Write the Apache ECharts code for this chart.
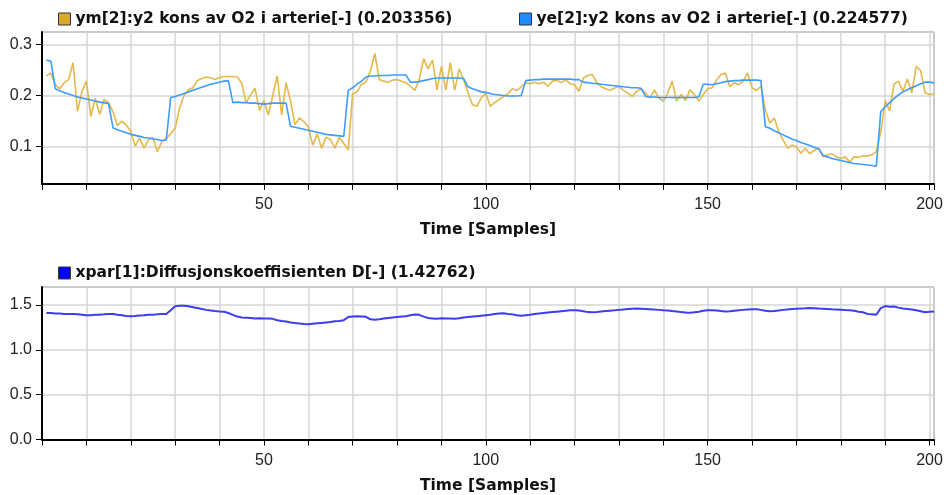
<!DOCTYPE html>
<html>
<head>
<meta charset="utf-8">
<script src="https://cdn.jsdelivr.net/npm/echarts@6/dist/echarts.min.js"></script>
<style>
  html, body { margin: 0; padding: 0; background: #fff; }
  #chart { width: 947px; height: 495px; }
</style>
</head>
<body>
<div id="chart"></div>
<script>
// Sample index (x axis), 1..201
const sampleCount = 201;
const samples = Array.from({ length: sampleCount }, (_, i) => i + 1);

// Measured O2 concentration in artery, ym[2]
const ymValues = [
  0.238, 0.244, 0.221, 0.213, 0.225, 0.231, 0.264, 0.169, 0.208, 0.228,
  0.159, 0.194, 0.163, 0.192, 0.186, 0.168, 0.141, 0.150, 0.142, 0.130,
  0.101, 0.117, 0.097, 0.114, 0.118, 0.090, 0.110, 0.116, 0.125, 0.136,
  0.175, 0.200, 0.211, 0.215, 0.229, 0.233, 0.236, 0.234, 0.231, 0.235,
  0.237, 0.237, 0.237, 0.236, 0.224, 0.186, 0.201, 0.214, 0.171, 0.190,
  0.162, 0.200, 0.238, 0.162, 0.225, 0.189, 0.143, 0.156, 0.149, 0.139,
  0.103, 0.125, 0.097, 0.118, 0.114, 0.097, 0.118, 0.106, 0.094, 0.203,
  0.207, 0.222, 0.226, 0.248, 0.282, 0.231, 0.228, 0.226, 0.230, 0.231,
  0.228, 0.225, 0.218, 0.210, 0.231, 0.272, 0.252, 0.269, 0.211, 0.257,
  0.211, 0.264, 0.210, 0.252, 0.231, 0.205, 0.182, 0.179, 0.195, 0.205,
  0.179, 0.186, 0.192, 0.198, 0.203, 0.213, 0.210, 0.217, 0.225, 0.223,
  0.226, 0.223, 0.226, 0.218, 0.228, 0.230, 0.225, 0.231, 0.223, 0.221,
  0.208, 0.234, 0.239, 0.241, 0.225, 0.217, 0.213, 0.210, 0.214, 0.218,
  0.210, 0.205, 0.198, 0.208, 0.213, 0.205, 0.195, 0.211, 0.195, 0.189,
  0.205, 0.228, 0.189, 0.202, 0.190, 0.211, 0.202, 0.189, 0.202, 0.213,
  0.215, 0.230, 0.241, 0.244, 0.217, 0.225, 0.221, 0.228, 0.244, 0.215,
  0.210, 0.218, 0.172, 0.146, 0.156, 0.130, 0.113, 0.097, 0.103, 0.100,
  0.087, 0.097, 0.086, 0.093, 0.097, 0.080, 0.084, 0.086, 0.080, 0.077,
  0.080, 0.070, 0.080, 0.079, 0.082, 0.082, 0.084, 0.090, 0.128, 0.190,
  0.170, 0.222, 0.228, 0.208, 0.232, 0.205, 0.257, 0.248, 0.205, 0.202,
  0.203356
];

// Estimated O2 concentration in artery, ye[2]
const yeValues = [
  0.269, 0.267, 0.213, 0.209, 0.206, 0.203, 0.200, 0.197, 0.195, 0.193,
  0.191, 0.189, 0.187, 0.186, 0.184, 0.137, 0.133, 0.130, 0.127, 0.124,
  0.122, 0.120, 0.118, 0.117, 0.115, 0.114, 0.112, 0.113, 0.196, 0.198,
  0.201, 0.204, 0.207, 0.210, 0.213, 0.216, 0.219, 0.222, 0.224, 0.226,
  0.228, 0.229, 0.186, 0.187, 0.186, 0.186, 0.185, 0.185, 0.184, 0.183,
  0.184, 0.185, 0.185, 0.185, 0.185, 0.140, 0.138, 0.136, 0.134, 0.132,
  0.130, 0.128, 0.126, 0.124, 0.123, 0.122, 0.121, 0.120, 0.210, 0.215,
  0.222, 0.228, 0.236, 0.238, 0.238, 0.239, 0.239, 0.239, 0.240, 0.240,
  0.240, 0.240, 0.226, 0.226, 0.227, 0.229, 0.231, 0.233, 0.234, 0.234,
  0.234, 0.234, 0.234, 0.234, 0.233, 0.217, 0.213, 0.210, 0.207, 0.206,
  0.204, 0.202, 0.201, 0.200, 0.199, 0.199, 0.199, 0.200, 0.229, 0.230,
  0.231, 0.231, 0.232, 0.232, 0.232, 0.232, 0.232, 0.232, 0.232, 0.231,
  0.231, 0.226, 0.225, 0.224, 0.223, 0.222, 0.221, 0.220, 0.219, 0.218,
  0.217, 0.216, 0.215, 0.215, 0.214, 0.198, 0.197, 0.197, 0.196, 0.196,
  0.196, 0.196, 0.196, 0.196, 0.196, 0.196, 0.196, 0.197, 0.222, 0.222,
  0.221, 0.223, 0.225, 0.227, 0.228, 0.229, 0.229, 0.230, 0.230, 0.230,
  0.230, 0.229, 0.139, 0.136, 0.131, 0.127, 0.123, 0.119, 0.115, 0.112,
  0.108, 0.105, 0.102, 0.099, 0.096, 0.083, 0.080, 0.077, 0.075, 0.073,
  0.071, 0.069, 0.067, 0.066, 0.065, 0.064, 0.063, 0.062, 0.168, 0.178,
  0.186, 0.194, 0.201, 0.207, 0.211, 0.215, 0.219, 0.223, 0.226, 0.226,
  0.224577
];

// Estimated diffusion coefficient, xpar[1]
const xparValues = [
  1.410, 1.410, 1.405, 1.405, 1.400, 1.400, 1.398, 1.395, 1.390, 1.385,
  1.385, 1.390, 1.392, 1.395, 1.400, 1.398, 1.390, 1.385, 1.378, 1.375,
  1.378, 1.382, 1.385, 1.390, 1.392, 1.395, 1.400, 1.400, 1.440, 1.485,
  1.490, 1.490, 1.485, 1.475, 1.465, 1.455, 1.445, 1.438, 1.432, 1.428,
  1.425, 1.410, 1.390, 1.370, 1.360, 1.358, 1.355, 1.350, 1.352, 1.350,
  1.348, 1.345, 1.330, 1.320, 1.315, 1.305, 1.298, 1.292, 1.288, 1.285,
  1.290, 1.295, 1.300, 1.305, 1.310, 1.318, 1.320, 1.330, 1.365, 1.372,
  1.373, 1.372, 1.368, 1.340, 1.335, 1.340, 1.348, 1.355, 1.360, 1.365,
  1.370, 1.375, 1.385, 1.393, 1.390, 1.370, 1.355, 1.350, 1.345, 1.352,
  1.348, 1.350, 1.345, 1.352, 1.360, 1.365, 1.370, 1.375, 1.380, 1.385,
  1.390, 1.400, 1.405, 1.407, 1.400, 1.395, 1.385, 1.380, 1.385, 1.390,
  1.398, 1.405, 1.410, 1.415, 1.420, 1.425, 1.430, 1.435, 1.440, 1.442,
  1.438, 1.430, 1.420, 1.418, 1.422, 1.428, 1.432, 1.436, 1.440, 1.445,
  1.450, 1.455, 1.458, 1.461, 1.458, 1.455, 1.452, 1.448, 1.445, 1.440,
  1.437, 1.432, 1.428, 1.420, 1.415, 1.412, 1.418, 1.425, 1.435, 1.440,
  1.442, 1.438, 1.432, 1.428, 1.430, 1.436, 1.440, 1.445, 1.450, 1.452,
  1.453, 1.445, 1.435, 1.430, 1.432, 1.438, 1.445, 1.450, 1.455, 1.458,
  1.460, 1.462, 1.465, 1.463, 1.460, 1.458, 1.455, 1.452, 1.450, 1.447,
  1.443, 1.440, 1.435, 1.425, 1.418, 1.400, 1.395, 1.390, 1.465, 1.487,
  1.480, 1.482, 1.470, 1.460, 1.455, 1.450, 1.440, 1.430, 1.418, 1.425,
  1.42762
];

// Legend / series names
const ymName = 'ym[2]:y2 kons av O2 i arterie[-] (0.203356)';
const yeName = 'ye[2]:y2 kons av O2 i arterie[-] (0.224577)';
const xparName = 'xpar[1]:Diffusjonskoeffisienten D[-] (1.42762)';

// Axis settings
const xRange = [0, 201];
const xStep = 10;
const xLabelStep = 50;
const yTopRange = [0.027, 0.324];
const yBottomRange = [0, 1.7];
const yBottomStep = 0.5;
const axisTitle = 'Time [Samples]';

const toPoints = vals => samples.map((s, i) => [s, vals[i]]);

const tickFont = 'Liberation Sans, Arial, sans-serif';
const boldFont = 'DejaVu Sans, Verdana, sans-serif';

function xAxisFor(gridIndex) {
  return {
    type: 'value',
    gridIndex,
    min: xRange[0],
    max: xRange[1],
    interval: xStep,
    name: axisTitle,
    nameLocation: 'middle',
    nameGap: 38,
    nameMoveOverlap: false,
    nameTextStyle: { fontFamily: boldFont, fontWeight: 'bold', fontSize: 15.5, color: '#111' },
    axisLine: { show: true, onZero: false, lineStyle: { color: '#000', width: 2 } },
    axisTick: { show: true, inside: false, length: 6, lineStyle: { color: '#000', width: 1 } },
    axisLabel: {
      color: '#222', fontFamily: tickFont, fontSize: 16, margin: 13,
      formatter: v => (v > 0 && v % xLabelStep === 0) ? String(v) : ''
    },
    splitLine: { show: true, lineStyle: { color: '#d6d6d6', width: 1.5 } }
  };
}

const commonYAxis = {
  type: 'value',
  axisLine: { show: true, onZero: false, lineStyle: { color: '#000', width: 2 } },
  axisTick: { show: true, inside: false, length: 6, lineStyle: { color: '#000', width: 1 } },
  splitLine: { show: true, lineStyle: { color: '#d6d6d6', width: 1.5 } }
};

const legendText = { fontFamily: boldFont, fontWeight: 'bold', fontSize: 15.5, color: '#111' };
const legendBase = {
  icon: 'rect', itemWidth: 12, itemHeight: 12, selectedMode: false,
  itemStyle: { borderColor: '#333', borderWidth: 1 },
  textStyle: legendText, padding: 0
};

const chart = echarts.init(document.getElementById('chart'));
chart.setOption({
  animation: false,
  backgroundColor: '#fff',
  legend: [
    Object.assign({}, legendBase, { data: [ymName], left: 58, top: 11 }),
    Object.assign({}, legendBase, { data: [yeName], left: 519, top: 11 }),
    Object.assign({}, legendBase, { data: [xparName], left: 58, top: 265 })
  ],
  grid: [
    { left: 42, right: 13, top: 32, height: 152, show: true, borderColor: '#555', borderWidth: 1, containLabel: false },
    { left: 42, right: 13, top: 287, height: 152.5, show: true, borderColor: '#555', borderWidth: 1, containLabel: false }
  ],
  xAxis: [xAxisFor(0), xAxisFor(1)],
  yAxis: [
    Object.assign({}, commonYAxis, {
      gridIndex: 0, min: yTopRange[0], max: yTopRange[1], splitNumber: 3,
      axisLabel: { color: '#222', fontFamily: tickFont, fontSize: 16, margin: 10,
        showMinLabel: false, showMaxLabel: false, formatter: v => v.toFixed(1) }
    }),
    Object.assign({}, commonYAxis, {
      gridIndex: 1, min: yBottomRange[0], max: yBottomRange[1], interval: yBottomStep,
      axisLabel: { color: '#222', fontFamily: tickFont, fontSize: 16, margin: 10,
        showMaxLabel: false, formatter: v => v.toFixed(1) }
    })
  ],
  series: [
    {
      name: ymName, type: 'line', xAxisIndex: 0, yAxisIndex: 0,
      data: toPoints(ymValues), showSymbol: false, color: '#d9a92e',
      lineStyle: { color: '#e5b84a', width: 1.6 }
    },
    {
      name: yeName, type: 'line', xAxisIndex: 0, yAxisIndex: 0,
      data: toPoints(yeValues), showSymbol: false, color: '#1e8cff',
      lineStyle: { color: '#3c9cff', width: 1.6 }
    },
    {
      name: xparName, type: 'line', xAxisIndex: 1, yAxisIndex: 1,
      data: toPoints(xparValues), showSymbol: false, color: '#0000ff',
      lineStyle: { color: '#3c3cf2', width: 2 }
    }
  ]
});
</script>
</body>
</html>
